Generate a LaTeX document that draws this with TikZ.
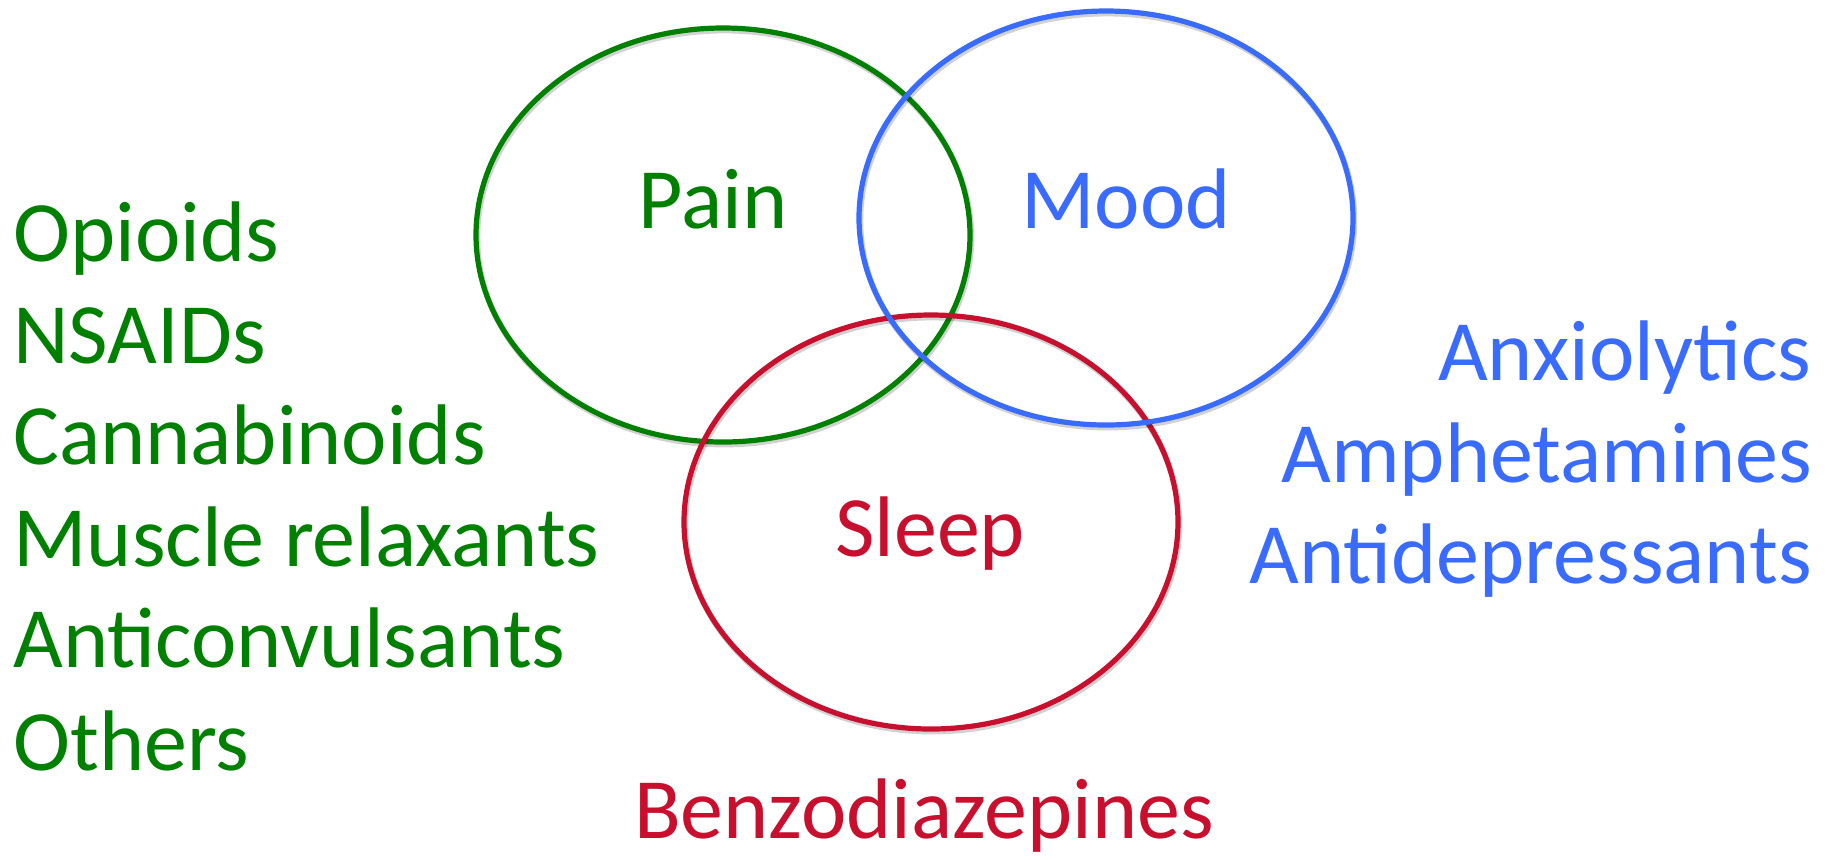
\documentclass[tikz,border=0pt]{standalone}
\usepackage{fontspec}
\setmainfont{Carlito}
\usetikzlibrary{shapes.geometric}
\definecolor{pain}{HTML}{008000}
\definecolor{mood}{HTML}{3A6BFF}
\definecolor{sleep}{HTML}{C8102E}

\begin{document}
\begin{tikzpicture}[
  x=0.5pt,y=-0.5pt,
  set/.style={ellipse,draw=#1,line width=2.6pt,minimum width=247pt,minimum height=207pt,inner sep=0pt,
    preaction={draw=black,opacity=0.18,line width=3pt,transform canvas={xshift=0.6pt,yshift=-1.2pt}}},
  lbl/.style={font=\fontsize{43}{50}\selectfont,text=#1,inner sep=0pt},
]
  \useasboundingbox (0,0) rectangle (1835,859);

  % the three sets
  \node[set=pain] (painset) at (723,235) {};
  \node[set=sleep] (sleepset) at (931,522) {};
  \node[set=mood] (moodset) at (1106,218) {};

  \node[lbl=pain,anchor=base] (paintitle) at (713,228) {Pain};
  \node[lbl=mood,anchor=base] (moodtitle) at (1126,228) {Mood};
  \node[lbl=sleep,anchor=base] (sleeptitle) at (930,556) {Sleep};

  % drug classes
  \node[lbl=pain,anchor=base west] (opioids) at (13,261) {Opioids};
  \node[lbl=pain,anchor=base west] (nsaids) at (13,363) {NSAIDs};
  \node[lbl=pain,anchor=base west] (cannab) at (13,464) {Cannabinoids};
  \node[lbl=pain,anchor=base west] (muscle) at (13,566) {Muscle relaxants};
  \node[lbl=pain,anchor=base west] (anticonv) at (13,667) {Anticonvulsants};
  \node[lbl=pain,anchor=base west] (others) at (13,770) {Others};

  \node[lbl=mood,anchor=base east] (anxio) at (1812,380) {Anxiolytics};
  \node[lbl=mood,anchor=base east] (amphet) at (1812,482) {Amphetamines};
  \node[lbl=mood,anchor=base east] (antidep) at (1812,583) {Antidepressants};

  \node[lbl=sleep,anchor=base] (benzo) at (924,838) {Benzodiazepines};
\end{tikzpicture}
\end{document}
